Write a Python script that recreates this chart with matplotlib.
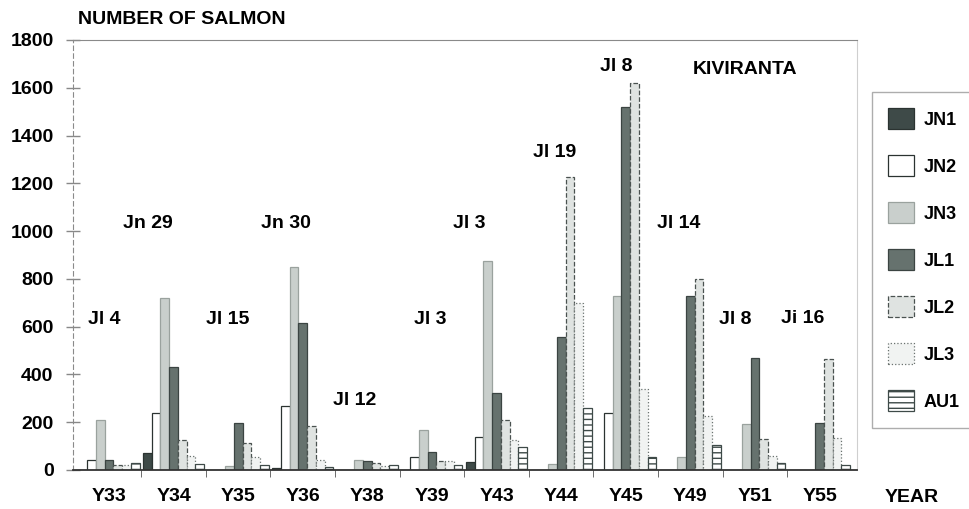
import numpy as np
import matplotlib
matplotlib.use("Agg")
import matplotlib.pyplot as plt
from matplotlib.patches import Patch

plt.rcParams['font.family'] = ['Liberation Sans', 'DejaVu Sans']
plt.rcParams['font.weight'] = 'bold'

# catches per year, one series per sampling period
years = ['Y33', 'Y34', 'Y35', 'Y36', 'Y38', 'Y39', 'Y43', 'Y44', 'Y45', 'Y49', 'Y51', 'Y55']
series_names = ['JN1', 'JN2', 'JN3', 'JL1', 'JL2', 'JL3', 'AU1']
jn1 = [0, 70, 0, 10, 0, 0, 35, 0, 0, 0, 0, 0]
jn2 = [40, 240, 0, 270, 0, 55, 140, 0, 240, 0, 0, 0]
jn3 = [210, 720, 15, 850, 42, 167, 875, 25, 730, 55, 193, 0]
jl1 = [40, 430, 197, 615, 38, 75, 322, 557, 1520, 730, 468, 197]
jl2 = [20, 125, 113, 185, 28, 38, 210, 1225, 1620, 800, 130, 465]
jl3 = [20, 60, 55, 40, 17, 38, 125, 700, 340, 225, 58, 133]
au1 = [30, 25, 20, 12, 20, 20, 95, 260, 55, 105, 28, 20]

# peak dates written above the groups
peak_labels = ['Jl 4', 'Jn 29', 'Jl 15', 'Jn 30', 'Jl 12', 'Jl 3', 'Jl 3',
               'Jl 19', 'Jl 8', 'Jl 14', 'Jl 8', 'Ji 16']
peak_pos = [(-0.08, 632), (0.60, 1030), (1.83, 628), (2.74, 1030), (3.81, 289),
            (4.97, 628), (5.57, 1030), (6.90, 1327), (7.85, 1691), (8.82, 1030),
            (9.69, 628), (10.74, 636)]

data = [jn1, jn2, jn3, jl1, jl2, jl3, au1]
styles = [
    dict(facecolor='#3e4a48', edgecolor='#2b3331', linestyle='-', hatch=None),
    dict(facecolor='#ffffff', edgecolor='#2b3331', linestyle='-', hatch=None),
    dict(facecolor='#c9cfcc', edgecolor='#9aa29e', linestyle='-', hatch=None),
    dict(facecolor='#66726e', edgecolor='#3b4442', linestyle='-', hatch=None),
    dict(facecolor='#dfe3e1', edgecolor='#4a5250', linestyle='--', hatch=None),
    dict(facecolor='#f1f3f2', edgecolor='#6a726f', linestyle=':', hatch=None),
    dict(facecolor='#ffffff', edgecolor='#3e4a48', linestyle='-', hatch='---'),
]

fs = 14

fig = plt.figure(figsize=(9.69, 5.09), dpi=100)
ax = fig.add_axes([73 / 969, 1 - 470 / 509, (857 - 73) / 969, (470 - 40) / 509])

x = np.arange(len(years))
w = 0.135
for j, (vals, st) in enumerate(zip(data, styles)):
    ax.bar(x + (j - 3) * w, vals, width=w, facecolor=st['facecolor'],
           edgecolor=st['edgecolor'], linestyle=st['linestyle'],
           hatch=st['hatch'], linewidth=0.9, zorder=2)

ax.set_xlim(-0.557, 11.58)
ax.set_ylim(0, 1800)
ax.set_yticks(np.arange(0, 1801, 200))
ax.set_xticks(x)
ax.set_xticklabels(years)
ax.set_xticks(x[:-1] + 0.5, minor=True)
ax.tick_params(axis='y', direction='inout', length=10, width=1, color='#888888',
               labelsize=fs, pad=9)
ax.tick_params(axis='x', which='major', length=0, labelsize=fs, pad=13)
ax.tick_params(axis='x', which='minor', direction='out', length=5, color='#555555')
for lbl in ax.get_xticklabels() + ax.get_yticklabels():
    lbl.set_fontweight('bold')

ax.spines['left'].set_color('#8a8a8a')
ax.spines['left'].set_linestyle((0, (4, 3)))
ax.spines['top'].set_color('#8a8a8a')
ax.spines['right'].set_color('#cfcfcf')
ax.spines['bottom'].set_color('#333333')
ax.spines['bottom'].set_linewidth(1.3)

for txt, (px, py) in zip(peak_labels, peak_pos):
    ax.text(px, py, txt, ha='center', va='center', fontsize=fs, fontweight='bold')
ax.text(9.85, 1678, 'KIVIRANTA', ha='center', va='center', fontsize=fs,
        fontweight='bold')

fig.text(78 / 969, 1 - 20 / 509, 'NUMBER OF SALMON', ha='left', va='center',
         fontsize=fs, fontweight='bold')
fig.text(912 / 969, 1 - 497 / 509, 'YEAR', ha='center', va='center',
         fontsize=fs, fontweight='bold')

handles = [Patch(facecolor=st['facecolor'], edgecolor=st['edgecolor'],
                 linestyle=st['linestyle'], hatch=st['hatch'], linewidth=0.9)
           for st in styles]
leg = fig.legend(handles, series_names, loc='upper left',
                 bbox_to_anchor=(872 / 969, 1 - 92 / 509), borderaxespad=0,
                 frameon=True, fancybox=False, edgecolor='#999999',
                 prop={'size': 13, 'weight': 'bold'}, handlelength=1.4,
                 handleheight=1.4, labelspacing=1.45, handletextpad=0.55,
                 borderpad=0.9)
leg.get_frame().set_linewidth(1.0)

fig.savefig('out.png', dpi=100)
